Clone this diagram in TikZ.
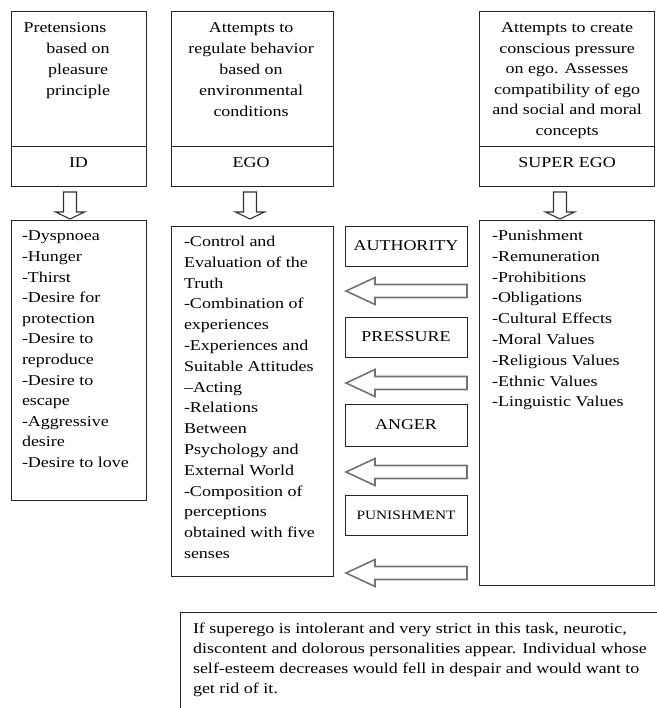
\documentclass[tikz,border=0pt]{standalone}
\usepackage{fontspec}
\setmainfont{Liberation Serif}[FakeStretch=1.2]
\begin{document}
\begin{tikzpicture}[x=1pt,y=-1pt,
  box/.style={draw=black!85,line width=0.9pt,inner sep=0pt,outer sep=0pt,fill=white},
  txt/.style={inner sep=0pt,outer sep=0pt,text=black,font=\fontsize{15}{#1}\selectfont},
  txt/.default=20.7,
  toptxt/.style={txt=#1,align=center,anchor=north},
  lsttxt/.style={txt=#1,align=left,anchor=north west},
  lab/.style={txt,anchor=base},
  downarr/.style={draw=black!80,line width=1.1pt,fill=white,line join=miter},
  leftarr/.style={draw=black!55,line width=1.6pt,fill=white,line join=miter},
  pics/dnarrow/.style={code={\draw[downarr] (-6.5,0) -- (-6.5,20) -- (-14.5,20) -- (0,27) -- (14.5,20) -- (6.5,20) -- (6.5,0) -- cycle;}},
  pics/lfarrow/.style={code={\draw[leftarr] (0,0) -- (29,-13.5) -- (29,-6.5) -- (121,-6.5) -- (121,6.5) -- (29,6.5) -- (29,13.5) -- cycle;}}
]
\useasboundingbox (0,0) rectangle (656,708);
\fill[white] (0,0) rectangle (656,708);

% top boxes
\node[box,minimum width=135pt,minimum height=135pt] (idtop) at (78.5,78.5) {};
\node[box,minimum width=135pt,minimum height=40pt] (idlab) at (78.5,166) {};
\node[box,minimum width=162pt,minimum height=135pt] (egotop) at (252,78.5) {};
\node[box,minimum width=162pt,minimum height=40pt] (egolab) at (252,166) {};
\node[box,minimum width=175pt,minimum height=135pt] (suptop) at (566.5,78.5) {};
\node[box,minimum width=175pt,minimum height=40pt] (suplab) at (566.5,166) {};

\node[toptxt=20.8] (idtxt) at (78,23) {Pretensions\hspace*{26pt}\\based on\\pleasure\\principle};
\node[toptxt=20.8] (egotxt) at (251,23) {Attempts to\\regulate behavior\\based on\\environmental\\conditions};
\node[toptxt=20.5] (suptxt) at (567,23) {Attempts to create\\conscious pressure\\on ego. Assesses\\compatibility of ego\\and social and moral\\concepts};

\node[lab] (idname) at (78.5,168) {ID};
\node[lab] (egoname) at (251,168) {EGO};
\node[lab] (supname) at (567,168) {SUPER EGO};

% down arrows
\pic at (70,192) {dnarrow};
\pic at (250,192) {dnarrow};
\pic at (560,192) {dnarrow};

% list boxes
\node[box,minimum width=135pt,minimum height=280pt] (idlist) at (78.5,360) {};
\node[box,minimum width=162pt,minimum height=350pt] (egolist) at (252,401) {};
\node[box,minimum width=175pt,minimum height=365pt] (suplist) at (566.5,402.5) {};

\node[lsttxt=20.6] (idlisttxt) at (22,231) {-Dyspnoea\\-Hunger\\-Thirst\\-Desire for\\protection\\-Desire to\\reproduce\\-Desire to\\escape\\-Aggressive\\desire\\-Desire to love};
\node[lsttxt=20.8] (egolisttxt) at (184,236) {-Control and\\Evaluation of the\\Truth\\-Combination of\\experiences\\-Experiences and\\Suitable Attitudes\\–Acting\\-Relations\\Between\\Psychology and\\External World\\-Composition of\\perceptions\\obtained with five\\senses};
\node[lsttxt=20.8] (suplisttxt) at (492,230) {-Punishment\\-Remuneration\\-Prohibitions\\-Obligations\\-Cultural Effects\\-Moral Values\\-Religious Values\\-Ethnic Values\\-Linguistic Values};

% middle boxes
\node[box,minimum width=122pt,minimum height=40pt] (auth) at (406,246) {};
\node[txt] at (auth.center) {AUTHORITY};
\node[box,minimum width=122pt,minimum height=40pt] (press) at (406,337) {};
\node[txt] at (press.center) {PRESSURE};
\node[box,minimum width=122pt,minimum height=42pt] (anger) at (406,425) {};
\node[txt] at (anger.center) {ANGER};
\node[box,minimum width=122pt,minimum height=40pt] (punish) at (406,515) {};
\node[txt,font=\fontsize{12.8}{15}\selectfont] at (punish.center) {PUNISHMENT};

% left arrows
\pic at (346,291) {lfarrow};
\pic at (346,383) {lfarrow};
\pic at (346,472) {lfarrow};
\pic at (346,573) {lfarrow};

% bottom note
\node[box,minimum width=480pt,minimum height=100pt] (note) at (420,662) {};
\node[lsttxt=20] (notetxt) at (193,623) {If superego is intolerant and very strict in this task, neurotic,\\discontent and dolorous personalities appear. Individual whose\\self-esteem decreases would fell in despair and would want to\\get rid of it.};
\end{tikzpicture}
\end{document}
